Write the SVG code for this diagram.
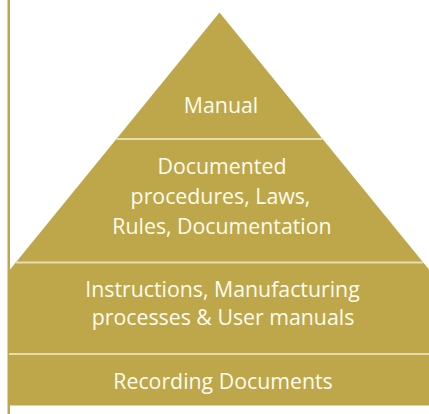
<svg xmlns="http://www.w3.org/2000/svg" width="429" height="414" viewBox="0 0 429 414">
  <style>
    .layer { fill: #BDA74A; }
    .sep { stroke: #E6DDB2; stroke-width: 1.8; fill: none; }
    .lbl { font-family: "Open Sans", "Noto Sans", sans-serif; font-size: 21.3px; fill: #FFFCEE; text-anchor: middle; }
  </style>
  <rect x="0" y="0" width="429" height="414" fill="#FFFFFF"/>
  <line x1="8.75" y1="0" x2="8.75" y2="414" stroke="#BDA74A" stroke-width="2.5"/>
  <g id="layer-manual">
    <polygon class="layer" points="219.5,12.5 322.6,139 116.4,139"/>
    <text class="lbl" x="221" y="112.5">Manual</text>
  </g>
  <g id="layer-documented">
    <polygon class="layer" points="116.4,139 322.6,139 423.25,262.5 15.75,262.5"/>
    <text class="lbl" x="222" y="173.5">Documented</text>
    <text class="lbl" x="220.5" y="204">procedures, Laws,</text>
    <text class="lbl" x="222" y="234">Rules, Documentation</text>
  </g>
  <g id="layer-instructions">
    <polygon class="layer" points="15.75,262.5 423.25,262.5 429,269.5 429,354 9,354 9,270.8"/>
    <text class="lbl" x="222.5" y="297">Instructions, Manufacturing</text>
    <text class="lbl" x="223" y="324.5">processes &amp; User manuals</text>
  </g>
  <g id="layer-recording">
    <rect class="layer" x="9" y="354" width="420" height="51.5"/>
    <text class="lbl" x="223" y="388.5">Recording Documents</text>
  </g>
  <g id="separators">
    <line class="sep" x1="116.4" y1="139" x2="322.6" y2="139"/>
    <line class="sep" x1="15.75" y1="262.5" x2="423.25" y2="262.5"/>
    <line class="sep" x1="9" y1="354" x2="429" y2="354"/>
  </g>
</svg>
